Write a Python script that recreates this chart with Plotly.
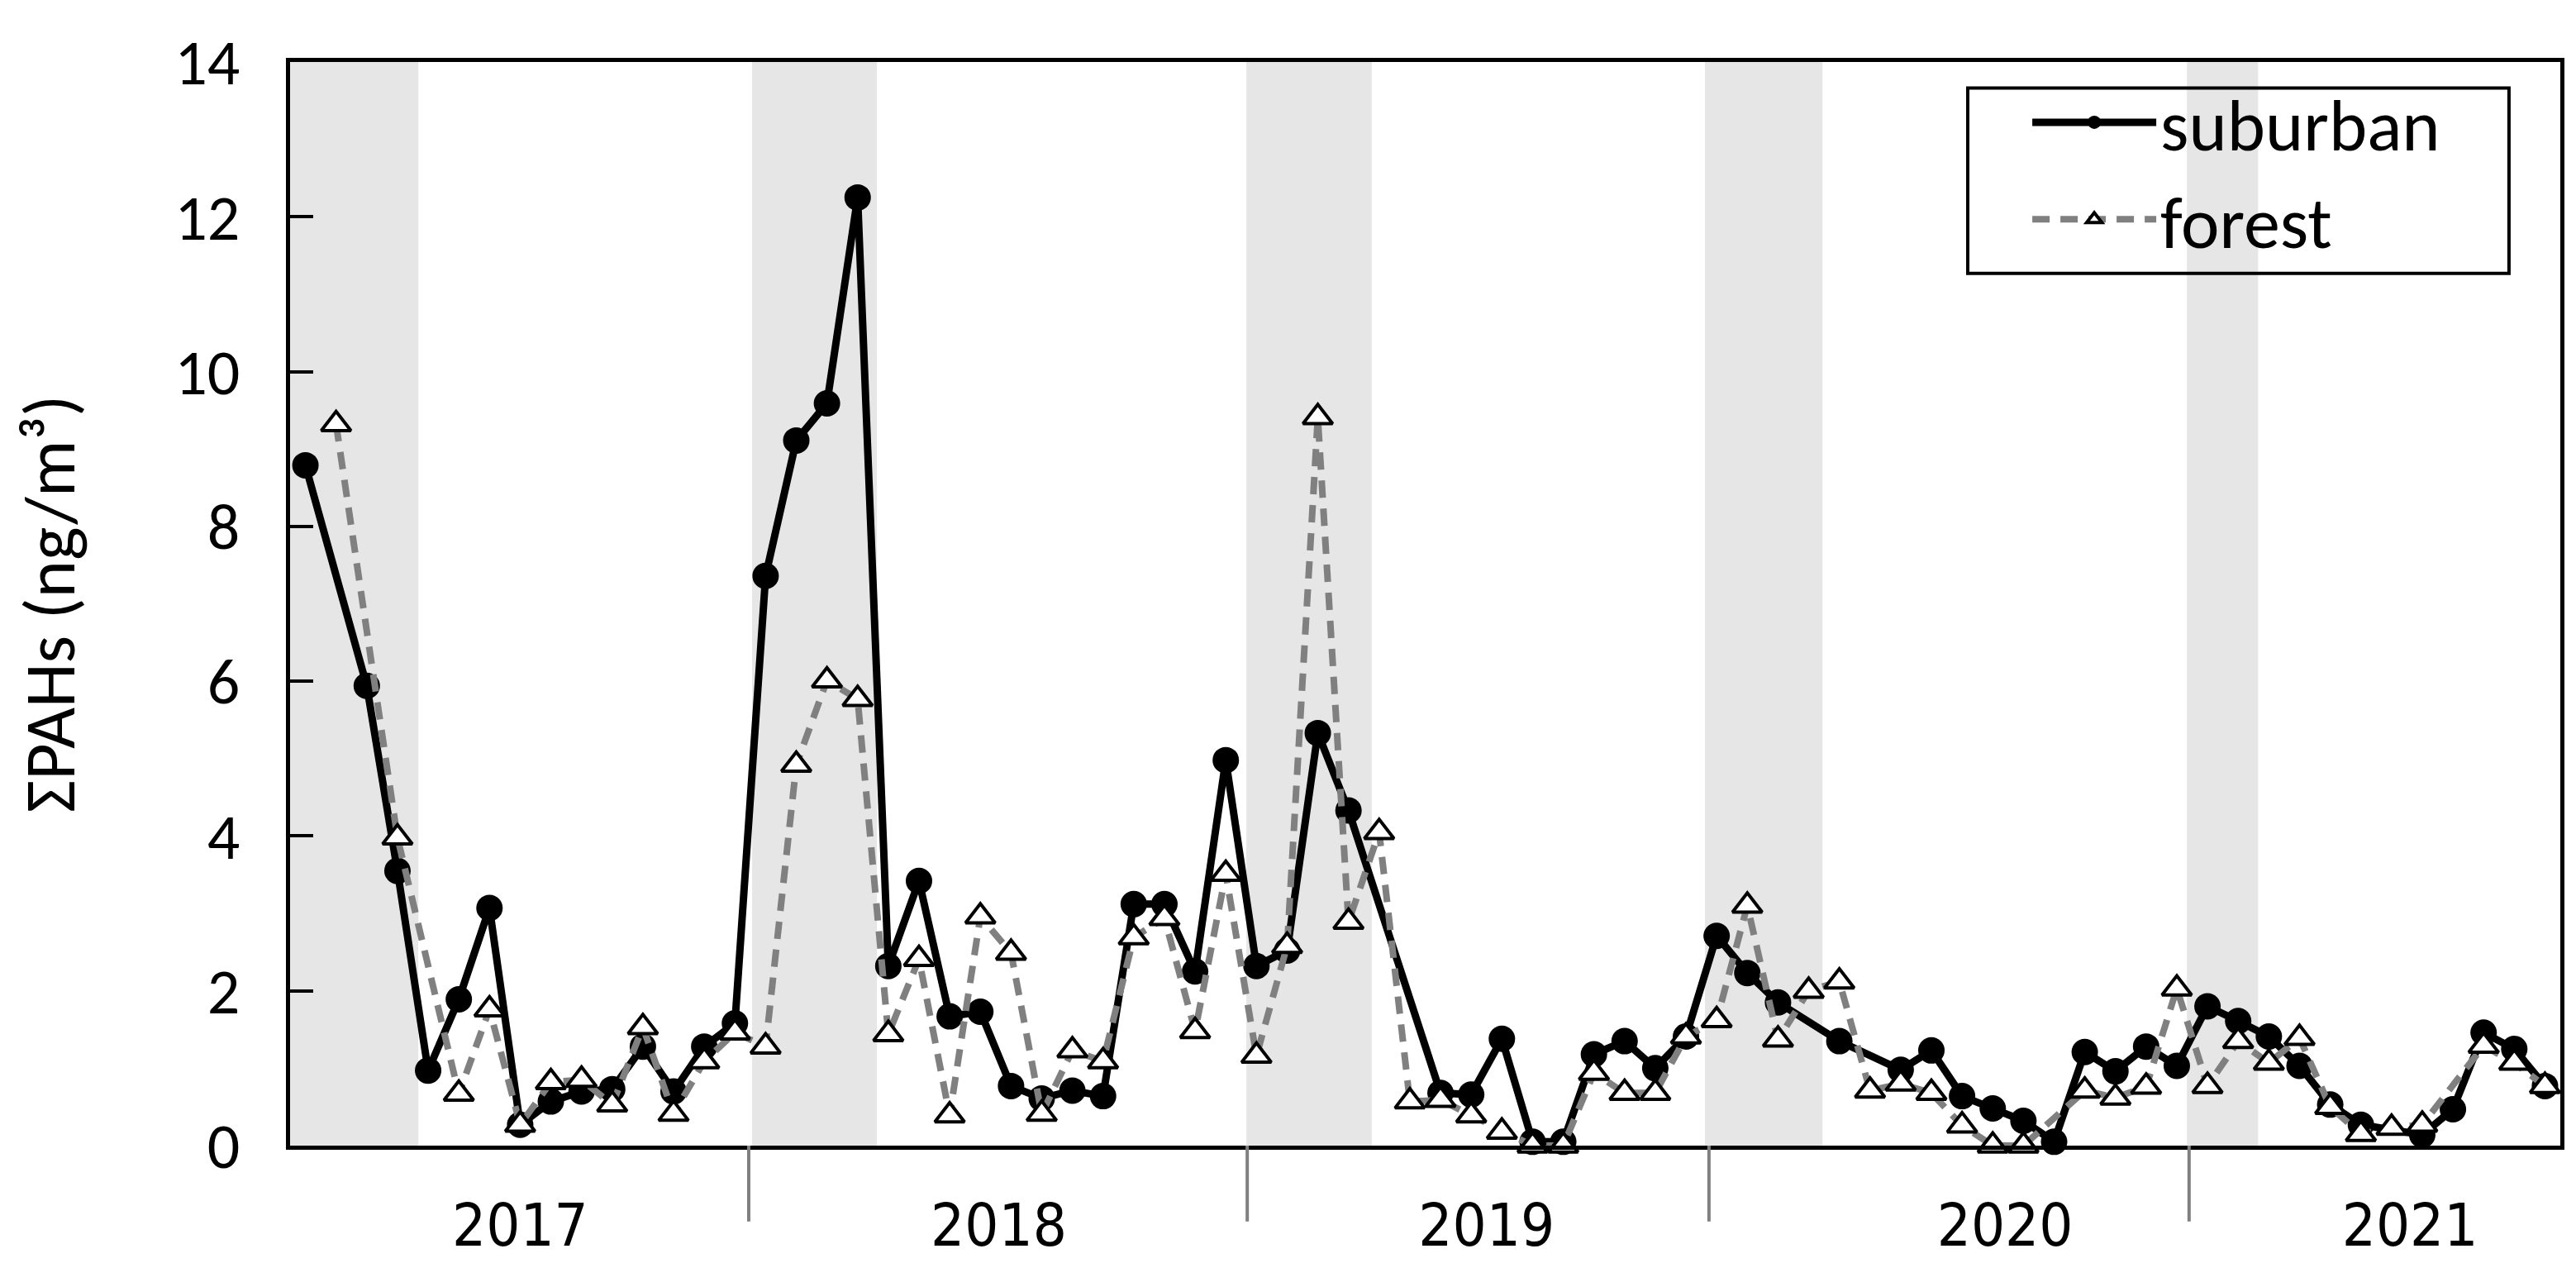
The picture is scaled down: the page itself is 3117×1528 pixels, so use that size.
import plotly.graph_objects as go

# ---- data ----
# one entry per sampling period (category index 0..73); None = no sample
SUBURBAN = [
    8.79, None, 5.94, 3.55, 0.97, 1.89, 3.07, 0.27, 0.57, 0.70,
    0.73, 1.28, 0.70, 1.28, 1.58, 7.36, 9.11, 9.59, 12.25, 2.32,
    3.42, 1.67, 1.73, 0.77, 0.61, 0.71, 0.64, 3.12, 3.12, 2.25,
    4.98, 2.32, 2.52, 5.33, 4.33, None, None, 0.68, 0.66, 1.38,
    0.05, 0.05, 1.18, 1.35, 1.00, 1.41, 2.71, 2.23, 1.85, None,
    1.35, None, 0.98, 1.23, 0.64, 0.48, 0.32, 0.05, 1.21, 0.96,
    1.28, 1.03, 1.80, 1.61, 1.41, 1.03, 0.53, 0.27, None, 0.14,
    0.47, 1.46, 1.25, 0.77,
]
FOREST = [
    None, 9.32, None, 3.98, None, 0.67, 1.76, 0.27, 0.82, 0.85,
    0.53, 1.53, 0.41, 1.09, 1.46, 1.28, 4.92, 6.01, 5.77, 1.44,
    2.41, 0.39, 2.96, 2.49, 0.41, 1.23, 1.09, 2.69, 2.94, 1.48,
    3.51, 1.16, 2.58, 9.41, 2.89, 4.05, 0.57, 0.59, 0.39, 0.18,
    0.00, 0.00, 0.94, 0.68, 0.68, 1.41, 1.62, 3.10, 1.37, 2.00,
    2.12, 0.71, 0.80, 0.68, 0.26, 0.00, 0.00, None, 0.71, 0.62,
    0.76, 2.03, 0.77, 1.35, 1.07, 1.39, 0.50, 0.15, 0.23, 0.27,
    None, 1.29, 1.07, 0.77,
]
SAMPLE_IDX = list(range(len(SUBURBAN)))

YEARS = ["2017", "2018", "2019", "2020", "2021"]
YEAR_LABEL_AT = [7.0, 22.6, 38.5, 55.4, 68.6]      # in sample-index units
YEAR_BREAKS = [14.45, 30.7, 45.75, 61.4]
WINTER_START = [-0.5, 14.56, 30.67, 45.62, 61.33]
WINTER_END = [3.68, 18.63, 34.76, 49.45, 63.65]

CALIBRI_LIKE = "Carlito, Lato, sans-serif"
NARROW = "Liberation Sans Narrow, Arial Narrow, DejaVu Sans Condensed, sans-serif"


def build_figure():
    fig = go.Figure()

    fig.add_trace(go.Scatter(
        x=SAMPLE_IDX, y=SUBURBAN, name="suburban",
        mode="lines+markers", connectgaps=True, cliponaxis=False,
        line=dict(color="black", width=9),
        marker=dict(symbol="circle", size=32, color="black"),
    ))
    fig.add_trace(go.Scatter(
        x=SAMPLE_IDX, y=FOREST, name="forest",
        mode="lines+markers", connectgaps=True, cliponaxis=False,
        line=dict(color="#808080", width=8, dash="21px,13px"),
        marker=dict(symbol="triangle-up", size=31, color="white",
                    line=dict(color="black", width=4)),
    ))

    # shaded winter periods
    for x0, x1 in zip(WINTER_START, WINTER_END):
        fig.add_shape(type="rect", xref="x", yref="y", x0=x0, x1=x1, y0=0, y1=14,
                      fillcolor="#E6E6E6", line_width=0, layer="below")

    # year separators under the axis
    for xb in YEAR_BREAKS:
        fig.add_shape(type="line", xref="x", yref="paper", x0=xb, x1=xb, y0=0, y1=-0.07,
                      line=dict(color="#808080", width=4))

    # legend frame (the legend itself is drawn without a border)
    fig.add_shape(type="rect", xref="paper", yref="paper",
                  x0=0.739, x1=0.9774, y0=0.805, y1=0.976,
                  line=dict(color="black", width=4), fillcolor="rgba(0,0,0,0)",
                  layer="above")

    fig.update_layout(
        width=3117, height=1528,
        margin=dict(l=343, r=27, t=67, b=127),
        plot_bgcolor="white", paper_bgcolor="white",
        legend=dict(
            x=0.7656, y=0.993, xanchor="left", yanchor="top",
            bgcolor="rgba(0,0,0,0)", borderwidth=0,
            font=dict(family=CALIBRI_LIKE, size=88, color="black"),
            itemwidth=150, tracegroupgap=0,
        ),
    )
    fig.update_xaxes(
        range=[-0.5, len(SAMPLE_IDX) - 0.5],
        tickmode="array", tickvals=YEAR_LABEL_AT, ticktext=YEARS, ticks="",
        tickfont=dict(family=NARROW, size=72, color="black"),
        ticklabelstandoff=30,
        showline=True, linecolor="black", linewidth=5, mirror=True,
        showgrid=False, zeroline=False,
    )
    fig.update_yaxes(
        range=[0, 14], dtick=2, ticks="inside", ticklen=28, tickwidth=4, tickcolor="black",
        tickfont=dict(family=CALIBRI_LIKE, size=78, color="black"),
        ticklabelstandoff=40,
        showline=True, linecolor="black", linewidth=5, mirror=True,
        showgrid=False, zeroline=False,
        title=dict(text="ΣPAHs (ng/m³)", standoff=100,
                   font=dict(family=CALIBRI_LIKE, size=86, color="black")),
    )
    return fig


def main():
    fig = build_figure()
    fig.write_html("out.html")


if __name__ == "__main__":
    main()
